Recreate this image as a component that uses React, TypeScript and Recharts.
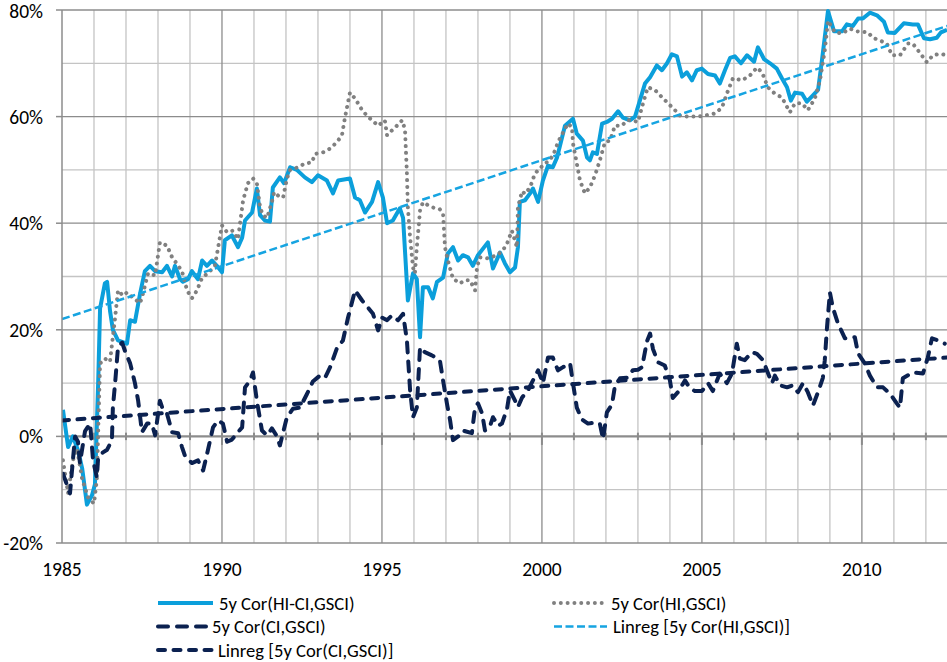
import { Line, LineChart, ReferenceLine, XAxis, YAxis } from "recharts";

const FONT = "Carlito, Calibri, Lato, sans-serif";

// 5y Cor(HI-CI,GSCI)
const hiCiYears = [
  1985.03, 1985.19, 1985.34, 1985.5, 1985.63, 1985.78, 1985.94, 1986.03, 1986.13, 1986.19,
  1986.34, 1986.41, 1986.5, 1986.59, 1986.75, 1987.03, 1987.13, 1987.28, 1987.44, 1987.59,
  1987.75, 1987.91, 1988.13, 1988.28, 1988.44, 1988.53, 1988.69, 1988.78, 1988.94, 1989.06,
  1989.25, 1989.38, 1989.53, 1989.69, 1989.84, 1990.0, 1990.09, 1990.31, 1990.5, 1990.63,
  1990.72, 1990.94, 1991.09, 1991.19, 1991.34, 1991.5, 1991.59, 1991.81, 1991.94, 1992.13,
  1992.34, 1992.59, 1992.81, 1993.0, 1993.28, 1993.47, 1993.63, 1994.0, 1994.16, 1994.31,
  1994.47, 1994.69, 1994.88, 1995.03, 1995.16, 1995.34, 1995.56, 1995.66, 1995.81, 1995.97,
  1996.09, 1996.19, 1996.28, 1996.44, 1996.59, 1996.72, 1996.91, 1997.06, 1997.22, 1997.38,
  1997.53, 1997.69, 1997.84, 1998.0, 1998.31, 1998.47, 1998.69, 1998.84, 1999.0, 1999.16,
  1999.25, 1999.31, 1999.47, 1999.63, 1999.72, 1999.88, 2000.03, 2000.19, 2000.34, 2000.47,
  2000.72, 2000.97, 2001.09, 2001.28, 2001.41, 2001.5, 2001.59, 2001.72, 2001.88, 2002.03,
  2002.19, 2002.38, 2002.53, 2002.75, 2002.91, 2003.06, 2003.22, 2003.38, 2003.59, 2003.75,
  2003.91, 2004.06, 2004.22, 2004.38, 2004.53, 2004.69, 2004.84, 2005.0, 2005.19, 2005.41,
  2005.56, 2005.72, 2005.88, 2006.03, 2006.22, 2006.41, 2006.63, 2006.75, 2006.94, 2007.13,
  2007.34, 2007.5, 2007.66, 2007.78, 2007.91, 2008.13, 2008.28, 2008.47, 2008.63, 2008.75,
  2008.94, 2009.13, 2009.38, 2009.53, 2009.72, 2009.88, 2010.03, 2010.25, 2010.47, 2010.69,
  2010.81, 2011.03, 2011.31, 2011.59, 2011.75, 2011.94, 2012.13, 2012.34, 2012.47, 2012.66,
];
const hiCiValues = [
  5, -2, 0, -2.6, -6, -12.8, -11, -9, 10, 24,
  28.7, 29, 23.6, 20, 18, 17.4, 21.8, 21.5, 26.8, 31,
  32, 31, 30.8, 32, 30, 32, 29.5, 29, 29.5, 31,
  29.5, 33, 32, 33, 32, 30.8, 36.8, 37.7, 35.5, 37.3,
  40.5, 42, 46.5, 41.5, 40.5, 40.3, 46.7, 48.6, 47.5, 50.5,
  50, 48.6, 47.7, 49, 48, 45.6, 48, 48.4, 44.8, 44.3,
  42, 44, 47.7, 44.8, 40, 40.5, 42.8, 41, 25.5, 30.6,
  29.5, 18.6, 28, 28, 25.9, 29, 29.8, 34.3, 35.5, 33,
  34, 33.6, 32, 34, 36.4, 31.5, 34.5, 32.5, 30.8, 31.7,
  35.5, 44, 44.3, 45.6, 46.5, 44, 48, 50.8, 50.5, 52.3,
  58.3, 59.6, 56.8, 55.5, 52.3, 51.8, 53.3, 53, 58.7, 59,
  59.6, 61, 59.8, 59.3, 60, 63, 66.2, 67.4, 69.6, 68.7,
  70, 71.7, 71.3, 67.5, 68.3, 66.8, 68.7, 69, 68, 67.7,
  66.2, 68.7, 71, 71.3, 70, 71.5, 70.3, 73, 70.8, 70,
  69, 67.2, 65.5, 63, 64.5, 64.3, 62.8, 64, 65, 70.5,
  79.8, 76, 76, 77.3, 77, 78.4, 78.4, 79.5, 79, 77.8,
  75.8, 75.7, 77.5, 77.3, 77.3, 74.7, 74.5, 74.8, 75.8, 76.3,
];

// 5y Cor(HI,GSCI)
const hiYears = [
  1985.03, 1985.19, 1985.34, 1985.47, 1985.63, 1985.81, 1986.0, 1986.09, 1986.19, 1986.34,
  1986.5, 1986.66, 1986.75, 1986.91, 1987.03, 1987.22, 1987.44, 1987.53, 1987.69, 1987.91,
  1988.06, 1988.28, 1988.44, 1988.59, 1988.75, 1988.91, 1989.06, 1989.22, 1989.38, 1989.56,
  1989.78, 1990.0, 1990.16, 1990.34, 1990.5, 1990.66, 1990.81, 1990.97, 1991.09, 1991.19,
  1991.28, 1991.41, 1991.56, 1991.63, 1991.75, 1991.91, 1992.03, 1992.13, 1992.38, 1992.59,
  1992.81, 1992.91, 1993.16, 1993.38, 1993.59, 1993.75, 1993.84, 1994.0, 1994.16, 1994.38,
  1994.56, 1994.88, 1995.09, 1995.16, 1995.31, 1995.47, 1995.63, 1995.72, 1995.78, 1995.81,
  1995.88, 1995.97, 1996.03, 1996.09, 1996.19, 1996.28, 1996.56, 1996.81, 1996.91, 1996.97,
  1997.06, 1997.22, 1997.44, 1997.59, 1997.75, 1997.91, 1997.97, 1998.06, 1998.31, 1998.59,
  1998.78, 1998.91, 1999.06, 1999.22, 1999.25, 1999.38, 1999.47, 1999.63, 1999.78, 1999.94,
  2000.09, 2000.25, 2000.41, 2000.5, 2000.66, 2000.81, 2000.94, 2000.97, 2001.09, 2001.19,
  2001.34, 2001.5, 2001.66, 2001.81, 2001.97, 2002.13, 2002.28, 2002.5, 2002.66, 2002.81,
  2003.0, 2003.16, 2003.31, 2003.53, 2003.69, 2003.94, 2004.16, 2004.31, 2004.56, 2004.88,
  2005.09, 2005.41, 2005.63, 2005.78, 2005.97, 2006.25, 2006.5, 2006.72, 2006.88, 2007.06,
  2007.28, 2007.5, 2007.75, 2007.91, 2008.13, 2008.31, 2008.53, 2008.69, 2008.84, 2008.94,
  2009.16, 2009.38, 2009.63, 2009.84, 2010.19, 2010.34, 2010.56, 2010.78, 2010.94, 2011.19,
  2011.44, 2011.59, 2011.81, 2012.03, 2012.22, 2012.44, 2012.66,
];
const hiValues = [
  -4.5, -10.7, -4.5, -2.3, -8, -11.4, -12.6, -8, 13.7, 14.6,
  14, 22.3, 27.4, 26.4, 27, 26, 25, 26.8, 30.6, 30.2,
  36.4, 35.8, 33.6, 32.4, 31, 27.4, 25.9, 27.4, 29.8, 30.6,
  32, 39.6, 38.3, 38.6, 37, 44.3, 47.5, 48.4, 47.5, 43,
  41.5, 41, 44, 45.8, 45.2, 44.8, 48.4, 50, 50.5, 51.2,
  51.4, 53, 53.3, 54, 55.2, 56.5, 59.7, 64.5, 63.4, 61.2,
  60, 58.3, 59.3, 56.5, 57.4, 58.3, 59.3, 57.6, 49.3, 43,
  37.3, 31.7, 30.6, 35.5, 42.4, 43.9, 43, 42.6, 41.8, 35.5,
  33, 29.6, 28.7, 29.3, 29.3, 27.4, 31.7, 33.6, 33.4, 34,
  34.9, 36.2, 38.6, 35.5, 43, 46, 45.5, 46.7, 49.3, 50.3,
  51.2, 51.8, 53.6, 55.2, 57, 58.7, 58, 55, 51.2, 48,
  45.6, 46.7, 49, 51.8, 55.2, 55.5, 58.3, 58.3, 59.3, 59.3,
  59, 62.5, 65.5, 65, 64, 62.5, 61.2, 60.2, 60, 60,
  60.2, 60.6, 61.7, 64.3, 67.2, 66.8, 67.7, 69.2, 68.3, 65.5,
  64.3, 63.6, 60.8, 62.5, 62.5, 61.2, 63.4, 66.8, 72.4, 78,
  75.8, 75.6, 76.5, 76, 75.8, 74.8, 74.3, 73.7, 71.5, 71.5,
  73.7, 73.7, 72, 70.2, 71.5, 71.8, 71.5,
];

// 5y Cor(CI,GSCI)
const ciYears = [
  1985.03, 1985.25, 1985.34, 1985.41, 1985.5, 1985.56, 1985.72, 1985.88, 1985.97, 1986.09,
  1986.13, 1986.28, 1986.41, 1986.56, 1986.59, 1986.66, 1986.75, 1986.88, 1986.97, 1987.13,
  1987.28, 1987.38, 1987.5, 1987.66, 1987.81, 1987.91, 1988.06, 1988.16, 1988.28, 1988.44,
  1988.63, 1988.75, 1988.84, 1989.06, 1989.25, 1989.41, 1989.56, 1989.72, 1989.88, 1990.03,
  1990.16, 1990.31, 1990.47, 1990.63, 1990.72, 1990.88, 1990.97, 1991.09, 1991.25, 1991.41,
  1991.56, 1991.72, 1991.81, 1992.03, 1992.22, 1992.44, 1992.66, 1992.84, 1993.06, 1993.22,
  1993.38, 1993.59, 1993.78, 1993.94, 1994.16, 1994.38, 1994.56, 1994.72, 1994.88, 1995.0,
  1995.16, 1995.31, 1995.5, 1995.66, 1995.78, 1995.88, 1995.97, 1996.09, 1996.19, 1996.34,
  1996.56, 1996.81, 1996.91, 1997.03, 1997.13, 1997.22, 1997.38, 1997.53, 1997.81, 1997.91,
  1998.0, 1998.13, 1998.22, 1998.38, 1998.47, 1998.63, 1998.75, 1998.91, 1999.0, 1999.16,
  1999.25, 1999.38, 1999.56, 1999.72, 1999.88, 2000.03, 2000.19, 2000.34, 2000.5, 2000.66,
  2000.88, 2000.97, 2001.09, 2001.25, 2001.44, 2001.66, 2001.81, 2001.91, 2002.03, 2002.19,
  2002.28, 2002.44, 2002.66, 2002.84, 2003.0, 2003.13, 2003.28, 2003.38, 2003.47, 2003.63,
  2003.84, 2004.0, 2004.09, 2004.25, 2004.47, 2004.63, 2004.78, 2005.0, 2005.19, 2005.34,
  2005.56, 2005.78, 2005.94, 2006.09, 2006.19, 2006.34, 2006.56, 2006.72, 2006.91, 2007.03,
  2007.19, 2007.28, 2007.44, 2007.66, 2007.84, 2008.0, 2008.16, 2008.31, 2008.47, 2008.63,
  2008.78, 2008.84, 2008.91, 2009.0, 2009.09, 2009.25, 2009.47, 2009.78, 2009.88, 2010.09,
  2010.25, 2010.47, 2010.66, 2010.88, 2011.09, 2011.19, 2011.28, 2011.59, 2011.91, 2012.06,
  2012.19, 2012.38, 2012.59,
];
const ciValues = [
  -7, -10.7, -4.5, 0, -1, -5, 1, 2.4, -4.5, -7.7,
  -4, -3, -2.5, -0.7, 5.4, 10, 16.7, 17.6, 16, 13.7,
  10, 6.7, 0.8, 2.4, 2.4, 0.2, 6.7, 4.9, 4.3, 0.8,
  0.6, -2, -3.6, -5, -4.5, -6.4, -2.6, 1.7, 3, 2.4,
  -1, -0.6, 0.6, 1.7, 9.2, 10.5, 12, 6.7, 1.1, 0.2,
  1.5, 0, -1.7, 3.6, 5.2, 5.4, 8, 10.3, 11.4, 11,
  13, 16.5, 18, 22.3, 27.4, 25.5, 24.2, 23, 19.9, 22.3,
  21.8, 22.7, 21.8, 23, 18, 8.6, 3.6, 5.4, 16.7, 15.8,
  15.2, 14.3, 10.5, 6.2, 3, -0.7, 0, 1.1, 0.6, 5.4,
  6.2, 4.3, 1.1, 2, 3.6, 2, 2.4, 5.2, 8.6, 6.7,
  5.5, 7.3, 8.6, 10.5, 12.4, 10, 14.8, 14.8, 12.4, 13,
  13.7, 10, 5.4, 3.2, 2.4, 2.6, 2.4, -0.5, 4.5, 6,
  9.4, 10.9, 11, 12.4, 12.5, 13, 17.8, 19.3, 16.4, 13.9,
  13.3, 10.5, 7.2, 8.3, 10.5, 9, 8.5, 8.5, 10, 8.5,
  11.8, 10, 11.8, 17.4, 14.6, 14.3, 15.8, 15.5, 14.3, 12.4,
  10, 11.4, 9.6, 9.2, 9.6, 8.3, 10, 8.3, 5.8, 8.3,
  11, 14.3, 20.5, 27, 24.2, 21.2, 18.4, 18.6, 15.6, 13.7,
  11.4, 9.2, 9.2, 8, 6.2, 5.4, 10.9, 12, 11.8, 14.8,
  18.4, 18, 17.4,
];

// linear regression lines (start and end of the fitted line)
const linregYears = [1985, 2012.66];
const linregHiValues = [22, 77];
const linregCiValues = [3, 14.8];

const xDomain = [1985, 2012.66];
const xTicks = [1985, 1990, 1995, 2000, 2005, 2010];
const yTicks = [-20, 0, 20, 40, 60, 80];
const minorYears = [
  1986, 1987, 1988, 1989, 1991, 1992, 1993, 1994, 1996, 1997, 1998, 1999, 2001, 2002,
  2003, 2004, 2006, 2007, 2008, 2009, 2011, 2012,
];
const majorYears = [1990, 1995, 2000, 2005, 2010];
const minorLevels = [-10, 10, 30, 50, 70];
const majorLevels = [-20, 20, 40, 60, 80];

const toPoints = (years: number[], values: number[]) =>
  years.map((x, i) => ({ x, y: values[i] }));

const BLUE = "#0b9fdb";
const GREY = "#808080";
const NAVY = "#0b2150";
const MINOR_GRID = "#c4c4c4";
const MAJOR_GRID = "#8c8c8c";

const legendItems = [
  { label: "5y Cor(HI-CI,GSCI)", x: 158, row: 0, len: 55, stroke: BLUE, width: 4, dash: undefined, cap: "butt" },
  { label: "5y Cor(HI,GSCI)", x: 554, row: 0, len: 51, stroke: GREY, width: 4, dash: "0.01 6.8", cap: "round" },
  { label: "5y Cor(CI,GSCI)", x: 158, row: 1, len: 48, stroke: NAVY, width: 4, dash: "10 9", cap: "round" },
  { label: "Linreg [5y Cor(HI,GSCI)]", x: 554, row: 1, len: 53, stroke: "#16a4e1", width: 2.5, dash: "8 3.5", cap: "butt" },
  { label: "Linreg [5y Cor(CI,GSCI)]", x: 158, row: 2, len: 54, stroke: NAVY, width: 4, dash: "7 8.5", cap: "round" },
];

export default function App() {
  return (
    <div style={{ position: "absolute", left: 0, top: 0, width: 947, height: 662, background: "#fff" }}>
      <LineChart width={947} height={590} margin={{ top: 10, right: 0, left: 0, bottom: 7 }}>
        <XAxis
          type="number"
          dataKey="x"
          domain={xDomain}
          ticks={xTicks}
          allowDataOverflow
          axisLine={false}
          tickLine={false}
          tickSize={6}
          tickMargin={13}
          height={40}
          tick={{ fill: "#000", fontSize: 19.5, fontFamily: FONT }}
        />
        <YAxis
          type="number"
          domain={[-20, 80]}
          ticks={yTicks}
          width={62}
          axisLine={{ stroke: MAJOR_GRID, strokeWidth: 1.5 }}
          tickLine={{ stroke: MAJOR_GRID, strokeWidth: 1.5 }}
          tickSize={6}
          tickMargin={13}
          tickFormatter={(v: number) => `${v}%`}
          tick={{ fill: "#000", fontSize: 19.5, fontFamily: FONT }}
        />
        {minorYears.map((yr) => (
          <ReferenceLine key={`mx${yr}`} x={yr} stroke={MINOR_GRID} strokeWidth={1.3} />
        ))}
        {minorLevels.map((v) => (
          <ReferenceLine key={`my${v}`} y={v} stroke={MINOR_GRID} strokeWidth={1.3} />
        ))}
        {majorYears.map((yr) => (
          <ReferenceLine key={`Mx${yr}`} x={yr} stroke={MAJOR_GRID} strokeWidth={1.3} />
        ))}
        {majorLevels.map((v) => (
          <ReferenceLine key={`My${v}`} y={v} stroke={MAJOR_GRID} strokeWidth={1.3} />
        ))}
        <ReferenceLine y={0} stroke={MAJOR_GRID} strokeWidth={2.2} />
        {minorYears.map((yr) => (
          <ReferenceLine
            key={`tk${yr}`}
            segment={[{ x: yr, y: -0.7 }, { x: yr, y: 0.7 }]}
            stroke={MAJOR_GRID}
            strokeWidth={2}
          />
        ))}
        {majorYears.map((yr) => (
          <ReferenceLine
            key={`TK${yr}`}
            segment={[{ x: yr, y: -1.6 }, { x: yr, y: 0.7 }]}
            stroke={MAJOR_GRID}
            strokeWidth={2}
          />
        ))}
        <Line
          data={toPoints(hiCiYears, hiCiValues)}
          dataKey="y"
          type="linear"
          dot={false}
          stroke={BLUE}
          strokeWidth={4}
          strokeLinejoin="round"
          isAnimationActive={false}
        />
        <Line
          data={toPoints(hiYears, hiValues)}
          dataKey="y"
          type="linear"
          dot={false}
          stroke={GREY}
          strokeWidth={4}
          strokeDasharray="0.01 6.8"
          strokeLinecap="round"
          isAnimationActive={false}
        />
        <Line
          data={toPoints(ciYears, ciValues)}
          dataKey="y"
          type="linear"
          dot={false}
          stroke={NAVY}
          strokeWidth={4}
          strokeDasharray="10 9"
          strokeLinecap="round"
          strokeLinejoin="round"
          isAnimationActive={false}
        />
        <Line
          data={toPoints(linregYears, linregHiValues)}
          dataKey="y"
          type="linear"
          dot={false}
          stroke="#16a4e1"
          strokeWidth={2.5}
          strokeDasharray="8 3.5"
          isAnimationActive={false}
        />
        <Line
          data={toPoints(linregYears, linregCiValues)}
          dataKey="y"
          type="linear"
          dot={false}
          stroke={NAVY}
          strokeWidth={4}
          strokeDasharray="7 8.5"
          strokeLinecap="round"
          isAnimationActive={false}
        />
      </LineChart>
      <svg width={947} height={72} style={{ position: "absolute", left: 0, top: 590 }}>
        {legendItems.map((it) => {
          const cy = 13 + it.row * 23.5;
          return (
            <g key={it.label}>
              <line
                x1={it.x}
                x2={it.x + it.len}
                y1={cy}
                y2={cy}
                stroke={it.stroke}
                strokeWidth={it.width}
                strokeDasharray={it.dash}
                strokeLinecap={it.cap as "butt" | "round"}
              />
              <text
                x={it.x + it.len + 6}
                y={cy}
                dy="0.35em"
                fontSize={18.6}
                fontFamily={FONT}
                fill="#000"
              >
                {it.label}
              </text>
            </g>
          );
        })}
      </svg>
    </div>
  );
}
